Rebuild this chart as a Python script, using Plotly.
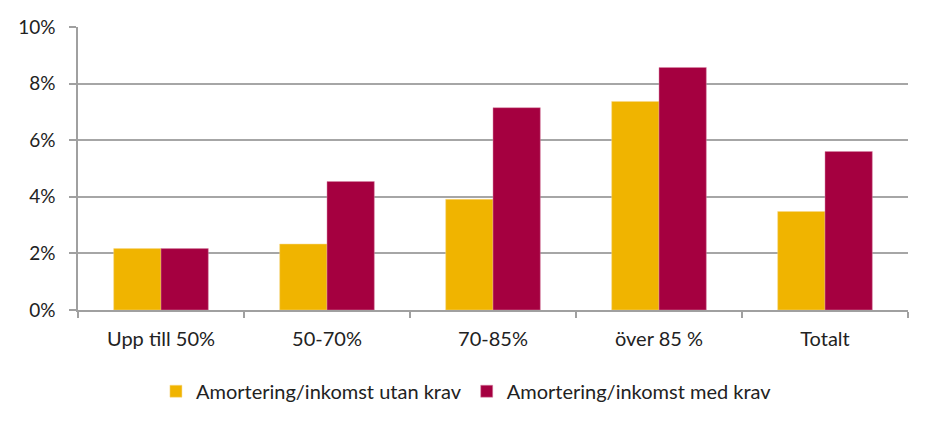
import plotly.graph_objects as go

categories = ["Upp till 50%", "50-70%", "70-85%", "över 85 %", "Totalt"]
utan_krav = [0.0217, 0.0233, 0.0391, 0.0737, 0.0348]
med_krav = [0.0217, 0.0454, 0.0715, 0.0857, 0.0560]
series_names = ["Amortering/inkomst utan krav", "Amortering/inkomst med krav"]
tick_vals = [0, 0.02, 0.04, 0.06, 0.08, 0.10]
tick_text = ["0%", "2%", "4%", "6%", "8%", "10%"]

FONT = "Lato, 'Open Sans', sans-serif"
FS = 19
FSX = 20

fig = go.Figure()
fig.add_bar(x=categories, y=utan_krav, name=series_names[0],
            marker=dict(color="#F0B400", line=dict(color="#F7D88A", width=0.5)))
fig.add_bar(x=categories, y=med_krav, name=series_names[1],
            marker=dict(color="#A50040", line=dict(color="#D98AA8", width=0.5)))

fig.update_layout(
    width=933, height=428,
    margin=dict(l=78, r=25, t=27, b=118, autoexpand=False),
    paper_bgcolor="white", plot_bgcolor="white",
    barmode="group", bargap=0.43, bargroupgap=0,
    font=dict(family=FONT, size=FS, color="#222222"),
    legend=dict(orientation="h", x=0.468, xanchor="center",
                y=-0.218, yanchor="top",
                font=dict(family=FONT, size=FSX, color="#222222"),
                itemwidth=30, tracegroupgap=0),
    hovermode=False,
)
fig.update_xaxes(
    showline=True, linecolor="#A0A0A0", linewidth=1.5,
    ticks="outside", tickson="boundaries", ticklen=6, tickcolor="#A0A0A0", tickwidth=1.5,
    ticklabelstandoff=10, tickangle=0,
    showgrid=False, tickfont=dict(size=FSX, family=FONT, color="#222222"),
)
fig.update_yaxes(
    range=[0, 0.10], tickvals=tick_vals, ticktext=tick_text,
    showline=True, linecolor="#A0A0A0", linewidth=1.5,
    ticks="outside", ticklen=7, tickcolor="#A0A0A0", tickwidth=1.5,
    ticklabelstandoff=10,
    showgrid=True, gridcolor="#A6A6A6", gridwidth=1.5,
    zeroline=False, tickfont=dict(size=FS, family=FONT, color="#222222"),
)

fig.write_html("out.html")
